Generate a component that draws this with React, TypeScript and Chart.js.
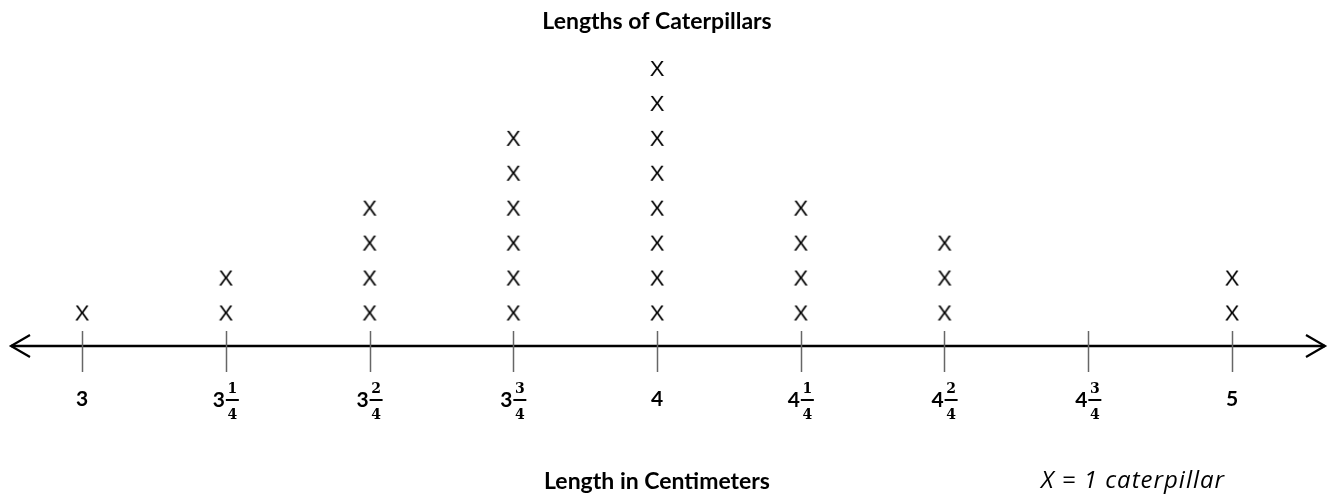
import React, { useEffect, useRef } from "react";
import { Chart, registerables } from "chart.js";

Chart.register(...registerables);

// ---- data ----
const categories = ["3", "3 1/4", "3 2/4", "3 3/4", "4", "4 1/4", "4 2/4", "4 3/4", "5"];
const lengths = [3, 3.25, 3.5, 3.75, 4, 4.25, 4.5, 4.75, 5];
const counts = [1, 2, 4, 6, 8, 4, 3, 0, 2];
const tickWhole = ["3", "3", "3", "3", "4", "4", "4", "4", "5"];
const tickNumerator = ["", "1", "2", "3", "", "1", "2", "3", ""];
const tickDenominator = ["", "4", "4", "4", "", "4", "4", "4", ""];
const chartTitle = "Lengths of Caterpillars";
const axisTitle = "Length in Centimeters";
const keyText = "X = 1 caterpillar";

const W = 1330;
const H = 495;

function makeXGlyph(): HTMLCanvasElement {
  const c = document.createElement("canvas");
  c.width = 24;
  c.height = 24;
  const g = c.getContext("2d")!;
  g.fillStyle = "#000";
  g.font = '22px "Liberation Sans", Arial, sans-serif';
  g.textAlign = "center";
  g.textBaseline = "middle";
  g.fillText("X", 12, 13);
  return c;
}

const linePlotPlugin = {
  id: "linePlot",
  afterDraw(chart: any) {
    const ctx = chart.ctx as CanvasRenderingContext2D;
    const xs = chart.scales.x;
    const ys = chart.scales.y;
    const area = chart.chartArea;
    const y0 = ys.getPixelForValue(0) - 2.4;
    ctx.save();
    ctx.strokeStyle = "#000";
    ctx.lineWidth = 2.5;
    ctx.beginPath();
    ctx.moveTo(area.left + 1, y0);
    ctx.lineTo(area.right - 1, y0);
    ctx.stroke();
    ctx.lineWidth = 2.2;
    ctx.beginPath();
    ctx.moveTo(area.left + 20, y0 - 11);
    ctx.lineTo(area.left + 1, y0);
    ctx.lineTo(area.left + 20, y0 + 11);
    ctx.moveTo(area.right - 20, y0 - 11);
    ctx.lineTo(area.right - 1, y0);
    ctx.lineTo(area.right - 20, y0 + 11);
    ctx.stroke();
    // ticks
    ctx.strokeStyle = "#666";
    ctx.lineWidth = 1.5;
    lengths.forEach((v) => {
      const px = Math.round(xs.getPixelForValue(v)) + 0.5;
      ctx.beginPath();
      ctx.moveTo(px, y0 - 15);
      ctx.lineTo(px, y0 + 26);
      ctx.stroke();
    });
    // tick labels
    ctx.fillStyle = "#000";
    const labelY = y0 + 53;
    lengths.forEach((v, i) => {
      const px = xs.getPixelForValue(v);
      ctx.font = 'bold 21px Lato, "Liberation Sans", sans-serif';
      ctx.textBaseline = "middle";
      const ww = ctx.measureText(tickWhole[i]).width;
      if (!tickNumerator[i]) {
        ctx.textAlign = "center";
        ctx.fillText(tickWhole[i], px, labelY);
        return;
      }
      const fracW = 13;
      const total = ww + 1 + fracW;
      const startX = px - total / 2;
      ctx.textAlign = "left";
      ctx.fillText(tickWhole[i], startX, labelY + 1);
      const fx = startX + ww + 1;
      const barY = labelY + 1;
      ctx.fillRect(fx, barY - 1, fracW, 2);
      ctx.font = 'bold 14px "DejaVu Serif", serif';
      ctx.textAlign = "center";
      ctx.textBaseline = "alphabetic";
      ctx.fillText(tickNumerator[i], fx + fracW / 2, barY - 7);
      ctx.fillText(tickDenominator[i], fx + fracW / 2, barY + 19);
    });
    // titles
    const centerX = xs.getPixelForValue(4);
    ctx.textBaseline = "middle";
    ctx.textAlign = "center";
    ctx.font = 'bold 23px Lato, "Liberation Sans", sans-serif';
    ctx.fillText(chartTitle, centerX, 22);
    ctx.fillText(axisTitle, centerX, 482);
    ctx.font = 'italic 24px "Open Sans", Lato, sans-serif';
    (ctx as any).letterSpacing = "1px";
    ctx.textAlign = "left";
    ctx.fillText(keyText, 1041, 481);
    ctx.restore();
  },
};

export default function App() {
  const canvasRef = useRef<HTMLCanvasElement | null>(null);

  useEffect(() => {
    document.body.style.margin = "0";
    document.body.style.overflow = "hidden";
    document.documentElement.style.overflow = "hidden";
    const glyph = makeXGlyph();
    const points: { x: number; y: number }[] = [];
    lengths.forEach((v, i) => {
      for (let k = 1; k <= counts[i]; k++) points.push({ x: v, y: k });
    });
    const chart = new Chart(canvasRef.current!, {
      type: "scatter",
      data: {
        labels: categories,
        datasets: [
          {
            label: "Caterpillars",
            data: points,
            pointStyle: glyph as any,
            pointRadius: 12,
            pointHoverRadius: 12,
          },
        ],
      },
      options: {
        animation: false,
        responsive: false,
        maintainAspectRatio: false,
        devicePixelRatio: 1,
        layout: { autoPadding: false, padding: { left: 10, right: 4, top: 51.5, bottom: 6.9 } },
        scales: {
          x: { type: "linear", min: 2.87478, max: 5.16348, display: false },
          y: { type: "linear", min: -4, max: 8.5, display: false },
        },
        plugins: {
          legend: { display: false },
          tooltip: { enabled: false },
          title: { display: false },
        },
      },
      plugins: [linePlotPlugin],
    });
    return () => chart.destroy();
  }, []);

  return (
    <div style={{ position: "absolute", left: 0, top: 0, width: W, height: H, background: "#fff" }}>
      <canvas ref={canvasRef} width={W} height={H} style={{ display: "block", width: W, height: H }} />
    </div>
  );
}
